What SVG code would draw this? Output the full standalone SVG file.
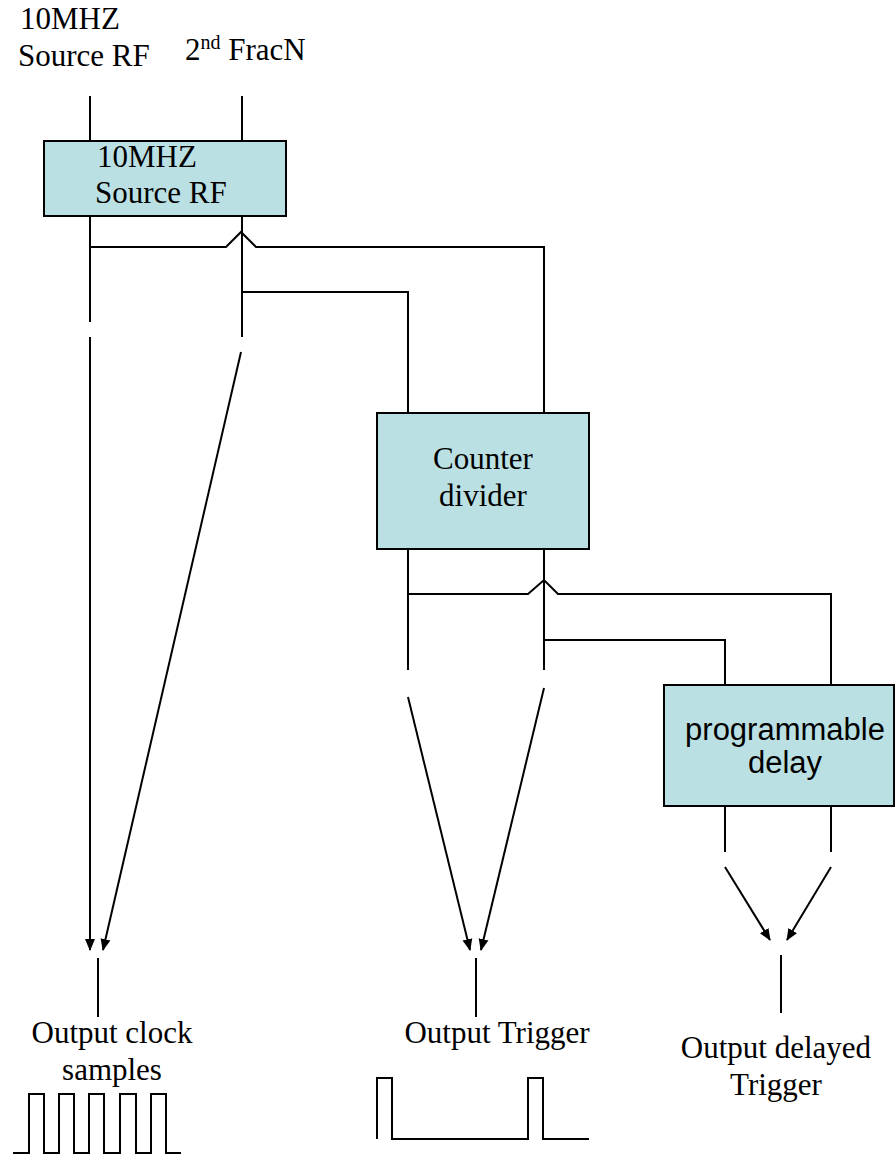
<svg xmlns="http://www.w3.org/2000/svg" width="895" height="1156" viewBox="0 0 895 1156">
<style>
.t{font-family:"Liberation Serif","Times New Roman",serif;font-size:31px;fill:#000}
.s{font-family:"Liberation Sans",Arial,sans-serif;font-size:31px;fill:#000}
.box{fill:#bbe0e3;stroke:#000;stroke-width:2}
.w{fill:none;stroke:#000;stroke-width:2}
</style>
<defs>
<marker id="ah" markerWidth="12" markerHeight="12" refX="11" refY="5" orient="auto" markerUnits="userSpaceOnUse" viewBox="0 0 12 10">
<path d="M0,0 L12,5 L0,10 Z" fill="#000"/>
</marker>
</defs>
<rect width="895" height="1156" fill="#fff"/>
<g id="labels-top">
<text class="t" x="20" y="29">10MHZ</text>
<text class="t" x="18" y="66">Source RF</text>
<text class="t" x="185" y="60">2<tspan font-size="20" dy="-11">nd</tspan><tspan dy="11"> FracN</tspan></text>
</g>
<g id="connectors" class="w">
<line x1="90" y1="96" x2="90" y2="141"/>
<line x1="242" y1="96" x2="242" y2="141"/>
<path d="M90,216 V322"/>
<path d="M242,216 V337"/>
<path d="M90,247 H226 L241,232 L256,247 H544 V413"/>
<path d="M242,292 H408 V413"/>
<path d="M90,337 V950" marker-end="url(#ah)"/>
<path d="M241,352 L103,950" marker-end="url(#ah)"/>
<path d="M408,549 V670"/>
<path d="M544,549 V670"/>
<path d="M408,594 H528 L544,580 L558,594 H831 V685"/>
<path d="M544,640 H725 V685"/>
<path d="M408,697 L470,950" marker-end="url(#ah)"/>
<path d="M544,688 L481,950" marker-end="url(#ah)"/>
<path d="M725,806 V852"/>
<path d="M831,806 V852"/>
<path d="M725,867 L770,940" marker-end="url(#ah)"/>
<path d="M831,867 L787,940" marker-end="url(#ah)"/>
<line x1="98" y1="958" x2="98" y2="1017"/>
<line x1="476" y1="958" x2="476" y2="1017"/>
<line x1="781" y1="955" x2="781" y2="1013"/>
</g>
<g id="node-source">
<rect class="box" x="44" y="141" width="242" height="75"/>
<text class="t" x="97" y="167">10MHZ</text>
<text class="t" x="95" y="203">Source RF</text>
</g>
<g id="node-counter">
<rect class="box" x="377" y="413" width="212" height="136"/>
<text class="t" x="483" y="469" text-anchor="middle">Counter</text>
<text class="t" x="483" y="506" text-anchor="middle">divider</text>
</g>
<g id="node-delay">
<rect class="box" x="664" y="685" width="230" height="121"/>
<text class="s" x="785" y="740" text-anchor="middle">programmable</text>
<text class="s" x="785" y="773" text-anchor="middle">delay</text>
</g>
<g id="out-clock">
<text class="t" x="112" y="1043" text-anchor="middle">Output clock</text>
<text class="t" x="112" y="1080" text-anchor="middle">samples</text>
<path class="w" d="M13,1153 H29 V1094 H44 V1153 H59 V1094 H74 V1153 H89 V1094 H104 V1153 H120 V1094 H136 V1153 H151 V1094 H166 V1153 H181"/>
</g>
<g id="out-trigger">
<text class="t" x="497" y="1043" text-anchor="middle">Output Trigger</text>
<path class="w" d="M377,1139 V1078 H392 V1139 H528 V1078 H543 V1139 H589"/>
</g>
<g id="out-delayed">
<text class="t" x="776" y="1058" text-anchor="middle">Output delayed</text>
<text class="t" x="776" y="1095" text-anchor="middle">Trigger</text>
</g>
</svg>
